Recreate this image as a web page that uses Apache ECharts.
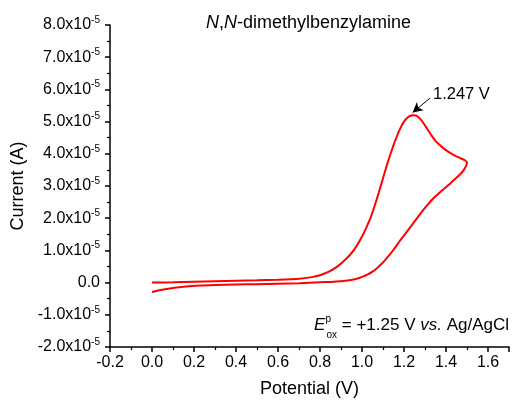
<!DOCTYPE html>
<html>
<head>
<meta charset="utf-8">
<script src="https://cdn.jsdelivr.net/npm/echarts@6/dist/echarts.min.js"></script>
<style>html,body{margin:0;padding:0;background:#fff}#c{width:513px;height:403px}</style>
</head>
<body>
<div id="c"></div>
<script>
// Potential (V) and current (units of 1e-5 A), forward then reverse scan
var potential = [0.00,0.10,0.20,0.30,0.40,0.50,0.60,0.70,0.76,0.80,0.84,0.88,0.91,0.94,0.96,0.98,1.00,1.02,1.04,1.06,1.08,1.10,1.12,1.14,1.16,1.18,1.20,1.22,1.235,1.247,1.26,1.275,1.29,1.31,1.33,1.35,1.37,1.39,1.41,1.43,1.45,1.47,1.49,1.50,
  1.495,1.485,1.47,1.45,1.43,1.41,1.39,1.37,1.35,1.33,1.31,1.29,1.27,1.25,1.23,1.21,1.19,1.17,1.15,1.13,1.11,1.09,1.07,1.05,1.03,1.01,0.99,0.97,0.94,0.90,0.85,0.80,0.70,0.60,0.50,0.40,0.30,0.23,0.15,0.10,0.07,0.04,0.02,0.00];
var current_e5 = [0.00,0.01,0.025,0.04,0.055,0.07,0.09,0.12,0.17,0.23,0.33,0.49,0.65,0.84,1.0,1.2,1.43,1.7,2.0,2.38,2.8,3.24,3.68,4.08,4.44,4.76,5.0,5.14,5.19,5.2,5.18,5.1,4.98,4.78,4.58,4.4,4.27,4.16,4.07,3.99,3.92,3.86,3.8,3.74,
  3.62,3.5,3.38,3.26,3.14,3.02,2.91,2.8,2.68,2.55,2.4,2.24,2.07,1.9,1.72,1.55,1.38,1.2,1.02,0.85,0.7,0.56,0.44,0.34,0.26,0.2,0.15,0.11,0.07,0.04,0.02,0.01,-0.02,-0.035,-0.05,-0.06,-0.075,-0.09,-0.13,-0.17,-0.2,-0.23,-0.26,-0.29];
var scale = 1e-5;
var xTicks = {min: -0.2, max: 1.7, interval: 0.2};
var yTicks = {min: -2e-5, max: 8e-5, interval: 1e-5};
var peakLabel = '1.247 V';
var peakArrow = [[1.324, 5.73], [1.241, 5.28]];
var peakLabelAt = [1.338, 5.85];
var titleText = '{i|N},{i|N}-dimethylbenzylamine';

var FONT = 'Liberation Sans';
var data = potential.map(function (p, i) { return [p, current_e5[i] * scale]; });

var chart = echarts.init(document.getElementById('c'), null, {renderer: 'canvas'});
chart.setOption({
  animation: false,
  backgroundColor: '#fff',
  title: {
    text: titleText, left: 201, top: 9,
    textStyle: {fontSize: 18, fontWeight: 'normal', fontFamily: FONT, color: '#000',
      rich: {i: {fontSize: 18, fontStyle: 'italic', fontFamily: FONT, color: '#000'}}}
  },
  grid: {left: 110, right: 4, top: 25, bottom: 55},
  xAxis: {
    type: 'value', min: xTicks.min, max: xTicks.max, interval: xTicks.interval,
    name: 'Potential (V)', nameLocation: 'middle', nameGap: 33,
    nameTextStyle: {fontSize: 18, fontFamily: FONT, color: '#000'},
    axisLine: {show: true, onZero: false, lineStyle: {color: '#000', width: 1.5}},
    axisTick: {show: true, inside: false, length: 5, lineStyle: {color: '#000', width: 1.5}},
    minorTick: {show: true, splitNumber: 2, length: 3, lineStyle: {color: '#000', width: 1.2}},
    splitLine: {show: false},
    axisLabel: {fontSize: 16, fontFamily: FONT, color: '#000', margin: 8, showMaxLabel: false,
      formatter: function (v) { return v.toFixed(1); }}
  },
  yAxis: {
    type: 'value', min: yTicks.min, max: yTicks.max, interval: yTicks.interval,
    name: 'Current (A)', nameLocation: 'middle', nameGap: 82, nameRotate: 90,
    nameTextStyle: {fontSize: 18, fontFamily: FONT, color: '#000'},
    axisLine: {show: true, onZero: false, lineStyle: {color: '#000', width: 1.5}},
    axisTick: {show: true, inside: false, length: 5, lineStyle: {color: '#000', width: 1.5}},
    minorTick: {show: true, splitNumber: 2, length: 3, lineStyle: {color: '#000', width: 1.2}},
    splitLine: {show: false},
    axisLabel: {
      margin: 10, color: '#000',
      formatter: function (v) {
        var m = Math.round(v / scale * 10) / 10;
        if (Math.abs(m) < 1e-9) return '{m|0.0}';
        return '{m|' + m.toFixed(1) + 'x10}{s|-5}';
      },
      rich: {
        m: {fontSize: 16, fontFamily: FONT, color: '#000', lineHeight: 20},
        s: {fontSize: 10, fontFamily: FONT, color: '#000', verticalAlign: 'top', lineHeight: 12}
      }
    }
  },
  graphic: [{
    type: 'text', right: 4, top: 314,
    style: {
      text: '{E|E}{p|p}{o|ox}{n| = +1.25 V }{i|vs.}{n| Ag/AgCl}',
      rich: {
        E: {fontSize: 17, fontStyle: 'italic', fontFamily: FONT, fill: '#000', lineHeight: 22},
        p: {fontSize: 10, fontFamily: FONT, fill: '#000', verticalAlign: 'top', width: 1, lineHeight: 10},
        o: {fontSize: 10, fontFamily: FONT, fill: '#000', verticalAlign: 'bottom', lineHeight: 10, padding: [0, 0, -4, 0]},
        n: {fontSize: 17, fontFamily: FONT, fill: '#000', lineHeight: 22},
        i: {fontSize: 17, fontStyle: 'italic', fontFamily: FONT, fill: '#000', lineHeight: 22}
      }
    }
  }],
  series: [{
    type: 'line', data: data, showSymbol: false, symbol: 'none', smooth: 0.2,
    lineStyle: {color: '#ff0000', width: 2}, itemStyle: {color: '#ff0000'},
    markLine: {
      silent: true, symbol: ['none', 'arrow'], symbolSize: [8, 10],
      label: {show: false},
      lineStyle: {color: '#000', width: 1, type: 'solid'},
      data: [[{coord: [peakArrow[0][0], peakArrow[0][1] * scale]}, {coord: [peakArrow[1][0], peakArrow[1][1] * scale]}]]
    },
    markPoint: {
      silent: true, symbol: 'circle', symbolSize: 0,
      data: [{coord: [peakLabelAt[0], peakLabelAt[1] * scale]}],
      label: {show: true, position: 'right', distance: 0, formatter: peakLabel,
        fontSize: 16.5, fontFamily: FONT, color: '#000'}
    }
  }]
});
</script>
</body>
</html>
